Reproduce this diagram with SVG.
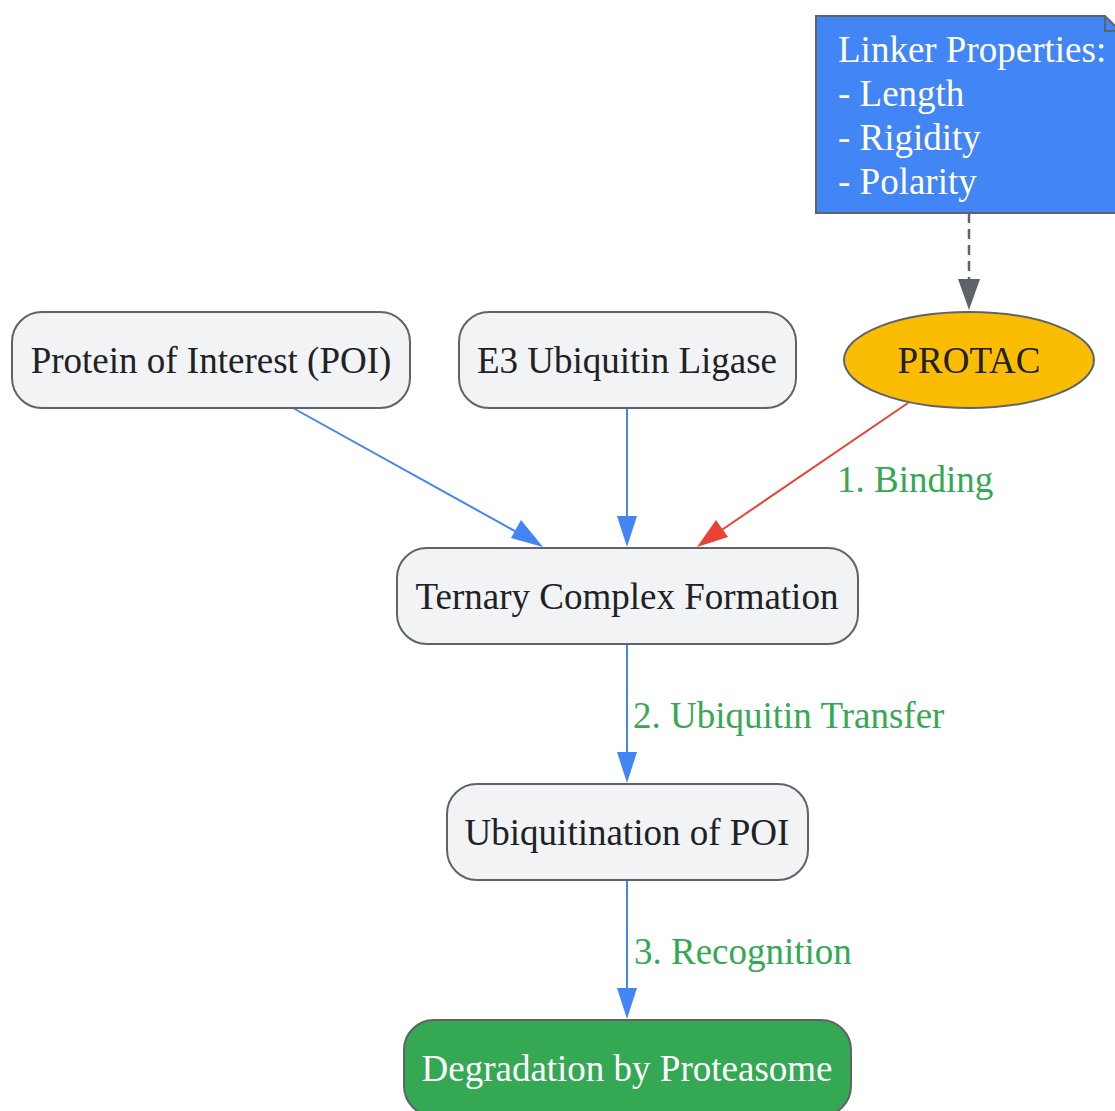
<svg xmlns="http://www.w3.org/2000/svg" width="1115" height="1111" viewBox="0 0 1115 1111">
<style>
.node{fill:#f1f3f4;stroke:#5f6368;stroke-width:2}
.t{font-family:"Liberation Serif","Times New Roman",serif;font-size:37px;fill:#202124;text-anchor:middle}
.w{fill:#ffffff}
.lbl{font-family:"Liberation Serif","Times New Roman",serif;font-size:37px;fill:#34a853}
.e{fill:none;stroke:#4285f4;stroke-width:2}
</style>
<g id="connectors">
<path class="e" d="M293,408 L531,540"/>
<path d="M543,547 L511,538 L521,520 z" fill="#4285f4"/>
<path class="e" d="M627,408 L627,530"/>
<path d="M627,547 L617,516 L637,516 z" fill="#4285f4"/>
<path d="M908,403 L710,538" fill="none" stroke="#ea4335" stroke-width="2"/>
<path d="M697,547 L716,520 L728,537 z" fill="#ea4335"/>
<path d="M969,213 L969,290" fill="none" stroke="#5f6368" stroke-width="2.5" stroke-dasharray="10,6"/>
<path d="M969,310 L958,279 L980,279 z" fill="#5f6368"/>
<path class="e" d="M627,644 L627,766"/>
<path d="M627,783 L617,752 L637,752 z" fill="#4285f4"/>
<path class="e" d="M627,880 L627,1002"/>
<path d="M627,1019 L617,988 L637,988 z" fill="#4285f4"/>
<text class="lbl" x="837" y="492">1. Binding</text>
<text class="lbl" x="633" y="728">2. Ubiquitin Transfer</text>
<text class="lbl" x="634" y="964">3. Recognition</text>
</g>
<g id="note">
<path d="M816,16 L1105,16 L1120,31 L1120,213 L816,213 z" fill="#4285f4" stroke="#5f6368" stroke-width="2"/>
<path d="M1105,16 L1105,31 L1120,31" fill="none" stroke="#5f6368" stroke-width="2"/>
<text class="t w" style="text-anchor:start" x="838" y="62">Linker Properties:</text>
<text class="t w" style="text-anchor:start" x="838" y="106">- Length</text>
<text class="t w" style="text-anchor:start" x="838" y="150">- Rigidity</text>
<text class="t w" style="text-anchor:start" x="838" y="194">- Polarity</text>
</g>
<g id="poi">
<rect class="node" x="12" y="312" width="398" height="96" rx="30"/>
<text class="t" x="211" y="373">Protein of Interest (POI)</text>
</g>
<g id="e3">
<rect class="node" x="459" y="312" width="337" height="96" rx="30"/>
<text class="t" x="627" y="373">E3 Ubiquitin Ligase</text>
</g>
<g id="protac">
<ellipse cx="969" cy="360" rx="125" ry="48" fill="#fbbc04" stroke="#5f6368" stroke-width="2"/>
<text class="t" x="969" y="373">PROTAC</text>
</g>
<g id="ternary">
<rect class="node" x="397" y="548" width="461" height="96" rx="30"/>
<text class="t" x="627" y="609">Ternary Complex Formation</text>
</g>
<g id="ubiq">
<rect class="node" x="447" y="784" width="361" height="96" rx="30"/>
<text class="t" x="627" y="845">Ubiquitination of POI</text>
</g>
<g id="degr">
<rect x="404" y="1020" width="447" height="96" rx="30" fill="#34a853" stroke="#5f6368" stroke-width="2"/>
<text class="t w" x="627" y="1081">Degradation by Proteasome</text>
</g>
</svg>
